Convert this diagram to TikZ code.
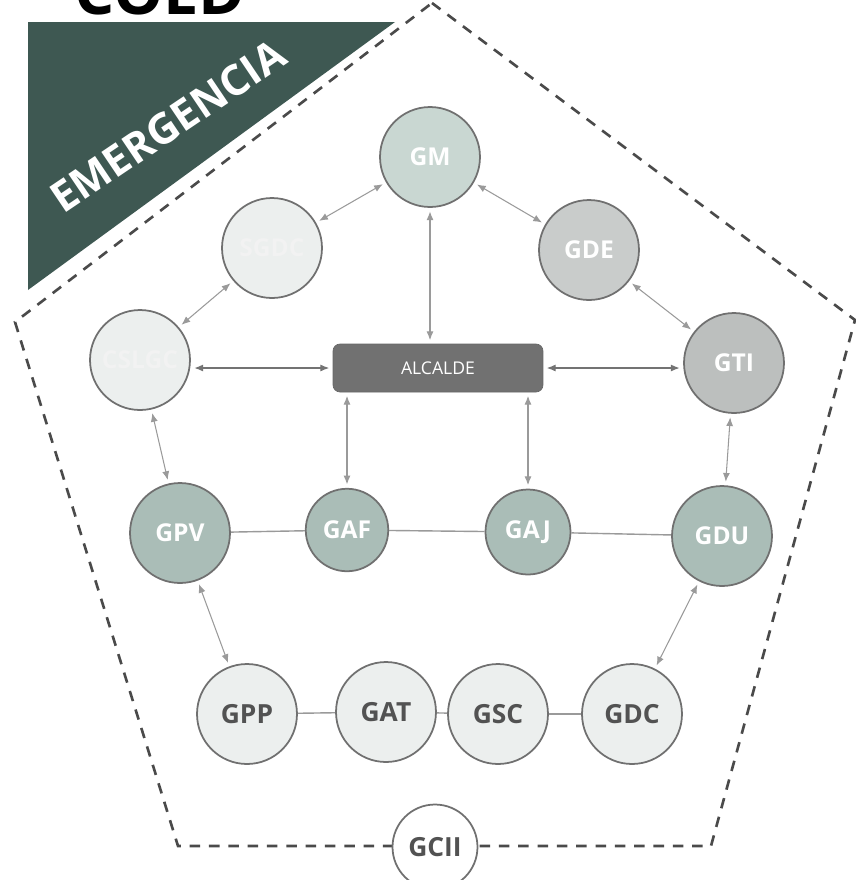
\documentclass[tikz,border=0pt]{standalone}
\usepackage{fontspec}
\setmainfont{Open Sans}
\usetikzlibrary{arrows.meta}

\definecolor{banda}{HTML}{3E5852}
\definecolor{borde}{HTML}{707070}
\definecolor{flecha}{HTML}{9A9A9A}
\definecolor{rayas}{HTML}{4A4A4A}
\definecolor{verdeclaro}{HTML}{C9D7D2}
\definecolor{verdemedio}{HTML}{AABDB7}
\definecolor{grisclaro}{HTML}{C9CCCB}
\definecolor{grismedio}{HTML}{BCBFBE}
\definecolor{blanco}{HTML}{ECEFEE}
\definecolor{alcalde}{HTML}{717171}

\begin{document}
\begin{tikzpicture}[
        x=0.02cm, y=-0.02cm,
        gerencia/.style={
            circle,
            draw=borde,
            line width=1pt,
            minimum size=2cm,
            inner sep=0pt,
            text=white,
            font=\fontsize{14}{14}\selectfont\bfseries
        },
        baja/.style={
            gerencia,
            fill=blanco,
            text=black!68,
            font=\fontsize{15}{15}\selectfont\bfseries
        },
        enlace/.style={
            draw=flecha,
            line width=0.6pt,
            {Latex[length=5pt,width=4pt]}-{Latex[length=5pt,width=4pt]},
            shorten <=2pt,
            shorten >=2pt
        },
        linea/.style={draw=flecha, line width=0.8pt}
    ]
    \useasboundingbox (0,0) rectangle (856,880);

    % titulo cortado arriba
    \node[
        anchor=south,
        inner sep=0pt,
        font=\fontsize{36}{36}\selectfont\bfseries,
        name=titulo
    ] at (160,15) {COED};

    % banda de emergencia
    \fill[banda] (28,22) -- (395,22) -- (28,290) -- cycle;
    \node[
        rotate=34,
        text=white,
        font=\fontsize{24}{24}\selectfont\bfseries,
        name=emergencia
    ] at (168,126) {EMERGENCIA};

    % pentagono
    \draw[rayas, line width=1.5pt, dash pattern=on 6pt off 5pt]
        (432,3) -- (855,320) -- (711,846) -- (178,846) -- (15,322) -- cycle;

    % nodos de arriba
    \node[gerencia, fill=verdeclaro, name=gm] at (430,157) {GM};
    \node[gerencia, fill=blanco, text=white!95!black, name=sgdc] at (272,248) {SGDC};
    \node[gerencia, fill=grisclaro, name=gde] at (589,250) {GDE};
    \node[gerencia, fill=blanco, text=white!95!black, name=cslgc] at (140,360) {CSLGC};
    \node[gerencia, fill=grismedio, name=gti] at (734,363) {GTI};

    \node[
        draw=black!60,
        fill=alcalde,
        rounded corners=4pt,
        minimum width=4.2cm,
        minimum height=0.96cm,
        text=white,
        font=\fontsize{10}{10}\selectfont,
        name=alc
    ] at (438,368) {ALCALDE};

    % fila del medio
    \node[gerencia, fill=verdemedio, name=gpv] at (180,533) {GPV};
    \node[gerencia, fill=verdemedio, minimum size=1.65cm, name=gaf] at (347,530) {GAF};
    \node[gerencia, fill=verdemedio, minimum size=1.7cm, name=gaj] at (528,532) {GAJ};
    \node[gerencia, fill=verdemedio, name=gdu] at (722,536) {GDU};

    % fila de abajo
    \node[baja, name=gpp] at (247,714) {GPP};
    \node[baja, name=gat] at (386,712) {GAT};
    \node[baja, name=gsc] at (498,714) {GSC};
    \node[baja, name=gdc] at (632,714) {GDC};

    \node[baja, fill=white, minimum size=1.7cm, name=gcii] at (435,847) {GCII};

    % enlaces
    \draw[enlace] (sgdc) -- (gm);
    \draw[enlace] (gm) -- (gde);
    \draw[enlace] (gm.south) -- (gm.south |- alc.north);
    \draw[enlace] (cslgc) -- (sgdc);
    \draw[enlace] (gde) -- (gti);
    \draw[enlace, draw=black!55] (cslgc.east |- alc.west) -- (alc.west);
    \draw[enlace, draw=black!55] (alc.east) -- (gti.west |- alc.east);
    \draw[enlace] (gaf.north |- alc.south) -- (gaf.north);
    \draw[enlace] (gaj.north |- alc.south) -- (gaj.north);
    \draw[enlace] (cslgc) -- (gpv);
    \draw[enlace] (gti) -- (gdu);
    \draw[enlace] (gpv) -- (gpp);
    \draw[enlace] (gdu) -- (gdc);

    \draw[linea] (gpv) -- (gaf);
    \draw[linea] (gaf) -- (gaj);
    \draw[linea] (gaj) -- (gdu);
    \draw[linea] (gpp) -- (gat);
    \draw[linea] (gat) -- (gsc);
    \draw[linea] (gsc) -- (gdc);
\end{tikzpicture}
\end{document}
